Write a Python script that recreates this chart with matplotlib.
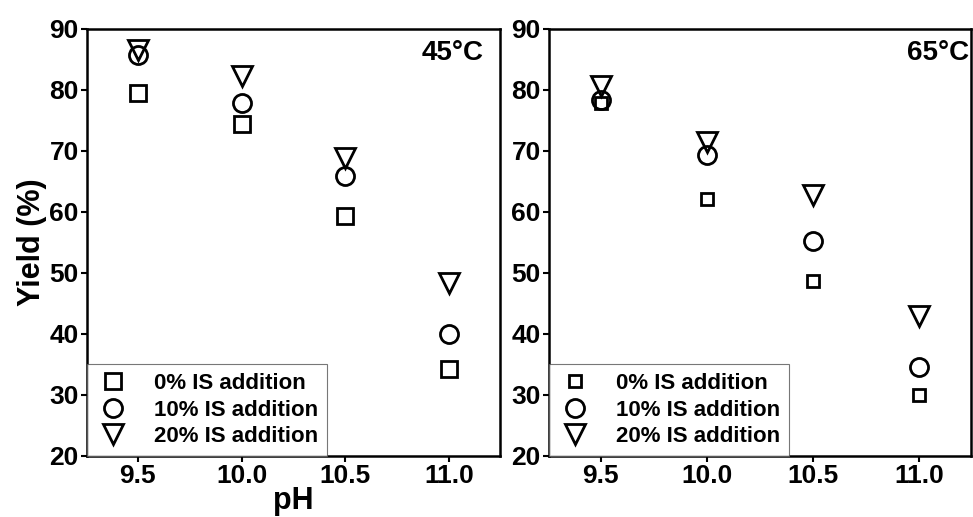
import matplotlib
matplotlib.use("Agg")
import matplotlib.pyplot as plt

plt.rcParams['font.family'] = ['Liberation Sans', 'DejaVu Sans']
plt.rcParams['font.weight'] = 'bold'

ph = [9.5, 10.0, 10.5, 11.0]

# 45 °C
y45_0 = [79.5, 74.5, 59.4, 34.3]
y45_10 = [85.8, 77.9, 65.9, 40.0]
y45_20 = [86.5, 82.3, 68.9, 48.4]

# 65 °C
y65_0 = [77.8, 62.1, 48.7, 30.0]
y65_10 = [78.4, 69.3, 55.2, 34.6]
y65_20 = [80.6, 71.4, 62.8, 42.9]

labels = ['0% IS addition', '10% IS addition', '20% IS addition']

fig = plt.figure(figsize=(9.73, 5.17), dpi=100)
ax1 = fig.add_axes([0.0894, 0.118, 0.4245, 0.826])
ax2 = fig.add_axes([0.5642, 0.118, 0.4337, 0.826])


def draw(ax, s0, s10, s20, sq_size, title):
    kw = dict(linestyle='none', markerfacecolor='none', markeredgecolor='black',
              markeredgewidth=2.0)
    ax.plot(ph, s0, marker='s', markersize=sq_size, label=labels[0], **kw)
    ax.plot(ph, s10, marker='o', markersize=13, label=labels[1], **kw)
    ax.plot(ph, s20, marker='v', markersize=15, label=labels[2], **kw)
    ax.set_xlim(9.255, 11.245)
    ax.set_ylim(20, 90)
    ax.set_xticks(ph)
    ax.set_xticklabels(['9.5', '10.0', '10.5', '11.0'])
    ax.set_yticks(range(20, 91, 10))
    ax.tick_params(direction='out', length=4, width=1.5, labelsize=19, pad=2)
    for lab in ax.get_xticklabels() + ax.get_yticklabels():
        lab.set_fontweight('bold')
    for sp in ax.spines.values():
        sp.set_linewidth(1.8)
    ax.text(0.96, 0.975, title, transform=ax.transAxes, ha='right', va='top',
            fontsize=20, fontweight='bold')
    leg = ax.legend(loc='lower left', borderaxespad=0, fancybox=False,
                    frameon=True, handletextpad=1.1,
                    labelspacing=0.25, borderpad=0.4, handlelength=1.5,
                    prop={'weight': 'bold', 'size': 16})
    leg.get_frame().set_edgecolor('#555555')
    leg.get_frame().set_linewidth(0.8)


draw(ax1, y45_0, y45_10, y45_20, 11.5, '45°C')
draw(ax2, y65_0, y65_10, y65_20, 9, '65°C')
ax2.texts[0].set_x(0.995)

ax1.set_ylabel('Yield (%)', fontsize=22, fontweight='bold', labelpad=2)
ax1.set_xlabel('pH', fontsize=22, fontweight='bold', labelpad=-2)

fig.savefig('out.png', dpi=100)
